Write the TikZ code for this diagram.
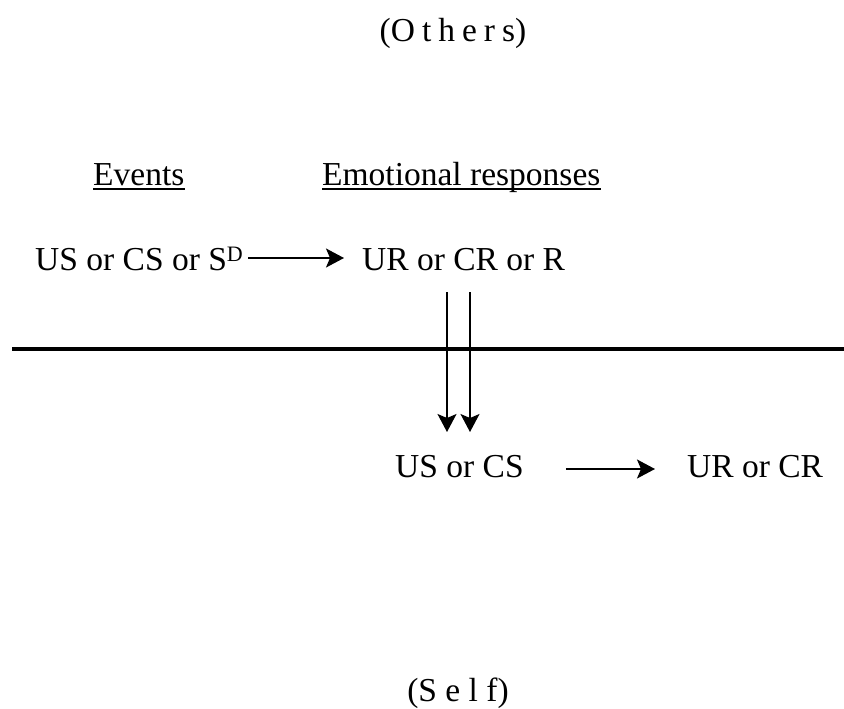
\documentclass[tikz,border=0pt]{standalone}
\usepackage{fontspec}
\setmainfont{Liberation Serif}
\usetikzlibrary{arrows.meta}

\tikzset{
  lbl/.style={inner sep=0pt, font=\fontsize{33.5}{40}\selectfont},
  arr/.style={line width=1.7pt, -{Stealth[length=18pt,width=19pt,inset=4pt]}},
  uline/.style={line width=1.3pt},
  divider/.style={line width=4.2pt}
}
\newcommand{\supD}{\raisebox{8.5pt}{\fontsize{22}{22}\selectfont D}}

\begin{document}
\begin{tikzpicture}[x=1pt,y=-1pt]
  \useasboundingbox (0,0) rectangle (844,709);

  % side labels
  \node[lbl, anchor=base] (others) at (453,42) {(O\hspace{7pt}t\hspace{7pt}h\hspace{7pt}e\hspace{7pt}r\hspace{7pt}s)};
  \node[lbl, anchor=base] (self)   at (458,701) {(S e l f)};

  % column headings
  \node[lbl, anchor=base west] (events) at (93,185) {Events};
  \node[lbl, anchor=base west] (emo)    at (322,185) {Emotional responses};
  \draw[uline] ([yshift=-4pt]events.base west) -- ([yshift=-4pt]events.base east);
  \draw[uline] ([yshift=-4pt]emo.base west) -- ([yshift=-4pt]emo.base east);

  % upper row
  \node[lbl, anchor=base west] (ev)  at (35,270)  {US or CS or S\supD};
  \node[lbl, anchor=base west] (ur)  at (362,270) {UR or CR or R};
  \draw[arr] ([shift={(5pt,12pt)}]ev.base east) -- ([shift={(-18pt,12pt)}]ur.base west);

  % dividing line
  \coordinate (divL) at (12,349);
  \coordinate (divR) at (844,349);
  \draw[divider] (divL) -- (divR);

  % lower row
  \node[lbl, anchor=base west] (us2) at (395,477) {US or CS};
  \node[lbl, anchor=base west] (ur2) at (687,477) {UR or CR};
  \draw[arr] ([shift={(42pt,8pt)}]us2.base east) -- ([shift={(-32pt,8pt)}]ur2.base west);

  % crossing arrows
  \draw[arr] ([shift={(85pt,-22pt)}]ur.base west) -- ([shift={(52pt,45pt)}]us2.base west);
  \draw[arr] ([shift={(108pt,-22pt)}]ur.base west) -- ([shift={(75pt,45pt)}]us2.base west);
\end{tikzpicture}
\end{document}
